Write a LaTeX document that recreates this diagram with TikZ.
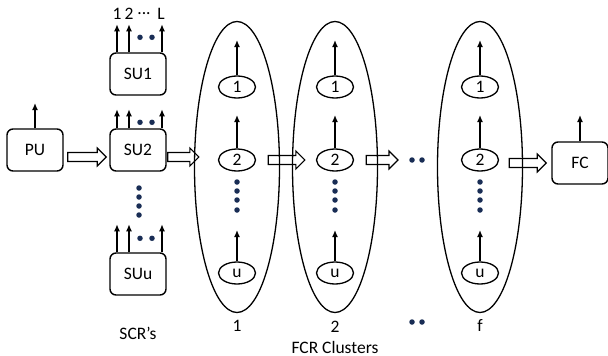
\documentclass[tikz,border=0pt]{standalone}
\usepackage{fontspec}
\setmainfont{Carlito}
\usetikzlibrary{positioning,arrows.meta,shapes.geometric,calc}
\definecolor{navy}{RGB}{25,45,85}

\begin{document}
\begin{tikzpicture}[x=1pt, y=-1pt, font=\fontsize{17.5}{20}\selectfont,
  unit/.style={rectangle, rounded corners=6pt, draw, line width=1.4pt, minimum width=56pt, minimum height=42pt},
  fcr/.style={ellipse, draw, line width=1.3pt, minimum width=37pt, minimum height=22pt, inner sep=0pt},
  cluster/.style={ellipse, draw, line width=1.3pt, minimum width=85pt, minimum height=291pt},
  up/.style={-{Latex[length=7pt,width=6pt]}, line width=1.3pt},
  % hollow block arrow, drawn as an outline from start to target
  bigarrow/.style={draw, line width=1.2pt, line join=miter,
    to path={let \p1=(\tikztostart), \p2=(\tikztotarget) in
      (\x1,\y1+4.5pt) -- (\x2-9pt,\y1+4.5pt) -- (\x2-9pt,\y1+9pt) -- (\x2,\y1)
      -- (\x2-9pt,\y1-9pt) -- (\x2-9pt,\y1-4.5pt) -- (\x1,\y1-4.5pt) -- cycle}},
  dot/.style={circle, fill=navy, inner sep=0pt, minimum size=5.5pt}]
\useasboundingbox (0,0) rectangle (608,356);

% primary user and the secondary users
\node[unit] (pu) at (35,150) {PU};
\node[unit] (su1) at (138,74) {SU1};
\node[unit] (su2) at (138,150) {SU2};
\node[unit] (suu) at (138,274) {SUu};
\node[unit] (fc) at (580,163) {FC};

\coordinate (pu out) at (35,103);
\coordinate (fc out) at (580,115);
\draw[up] (pu) -- (pu out);
\draw[up] (fc) -- (fc out);

% output arrows of every SU (name / length / dot offset)
\foreach \s/\len/\d in {su1/28/15, su2/19/6, suu/28/14} {
  \foreach \dx [count=\i] in {-21,-9,24} {
    \coordinate (\s-out\i) at ([xshift=\dx pt, yshift=\len pt]\s.north);
    \draw[up] ([xshift=\dx pt]\s.north) -- (\s-out\i);
  }
  \node[dot] at ([xshift=2pt, yshift=\d pt]\s.north) {};
  \node[dot] at ([xshift=14pt, yshift=\d pt]\s.north) {};
}
\node (lab1) at (117,14) {1};
\node (lab2) at (129,14) {2};
\node (labd) at (144,14) {...};
\node (labL) at (161,14) {L};

% dots between SU2 and SUu
\foreach \y in {188,197,206,215}
  \node[dot] at (139,\y) {};

% FCR clusters
\foreach \c/\cx in {c1/237, c2/335, cf/480} {
  \node[cluster] (\c) at (\cx,167) {};
  \node[fcr] (\c-1) at (\cx,87) {1};
  \node[fcr] (\c-2) at (\cx,160) {2};
  \node[fcr] (\c-u) at (\cx,273) {u};
  \coordinate (\c-o1) at (\cx,40);
  \coordinate (\c-o2) at (\cx,115);
  \coordinate (\c-ou) at (\cx,230);
  \draw[up] (\c-1) -- (\c-o1);
  \draw[up] (\c-2) -- (\c-o2);
  \draw[up] (\c-u) -- (\c-ou);
  \foreach \y in {182,191,200,210}
    \node[dot] at (\cx,\y) {};
}

% more clusters left out
\node[dot] (gap) at (412,160) {};
\node[dot] at (422,160) {};
\node[dot] at (412,322) {};
\node[dot] at (422,322) {};

% flow between the stages
\path[bigarrow] ([xshift=4pt, yshift=-7pt]pu.east) to ([xshift=-3pt, yshift=-7pt]su2.west);
\path[bigarrow] ([xshift=1pt, yshift=-7pt]su2.east) to ([xshift=5pt, yshift=-7pt]su2.east -| c1.west);
\path[bigarrow] ([xshift=12pt]c1-2.east) to ([xshift=-11pt]c2-2.west);
\path[bigarrow] ([xshift=12pt]c2-2.east) to ([xshift=-11pt]gap.west);
\path[bigarrow] ([xshift=10pt, yshift=-3pt]cf-2.east) to ([xshift=-5pt]fc.west);

% labels
\node (scr) at (138,333) {SCR's};
\node (n1) at (237,326) {1};
\node (n2) at (335,327) {2};
\node (nf) at (480,325) {f};
\node (fcrlab) at (335,347) {FCR Clusters};
\end{tikzpicture}
\end{document}
